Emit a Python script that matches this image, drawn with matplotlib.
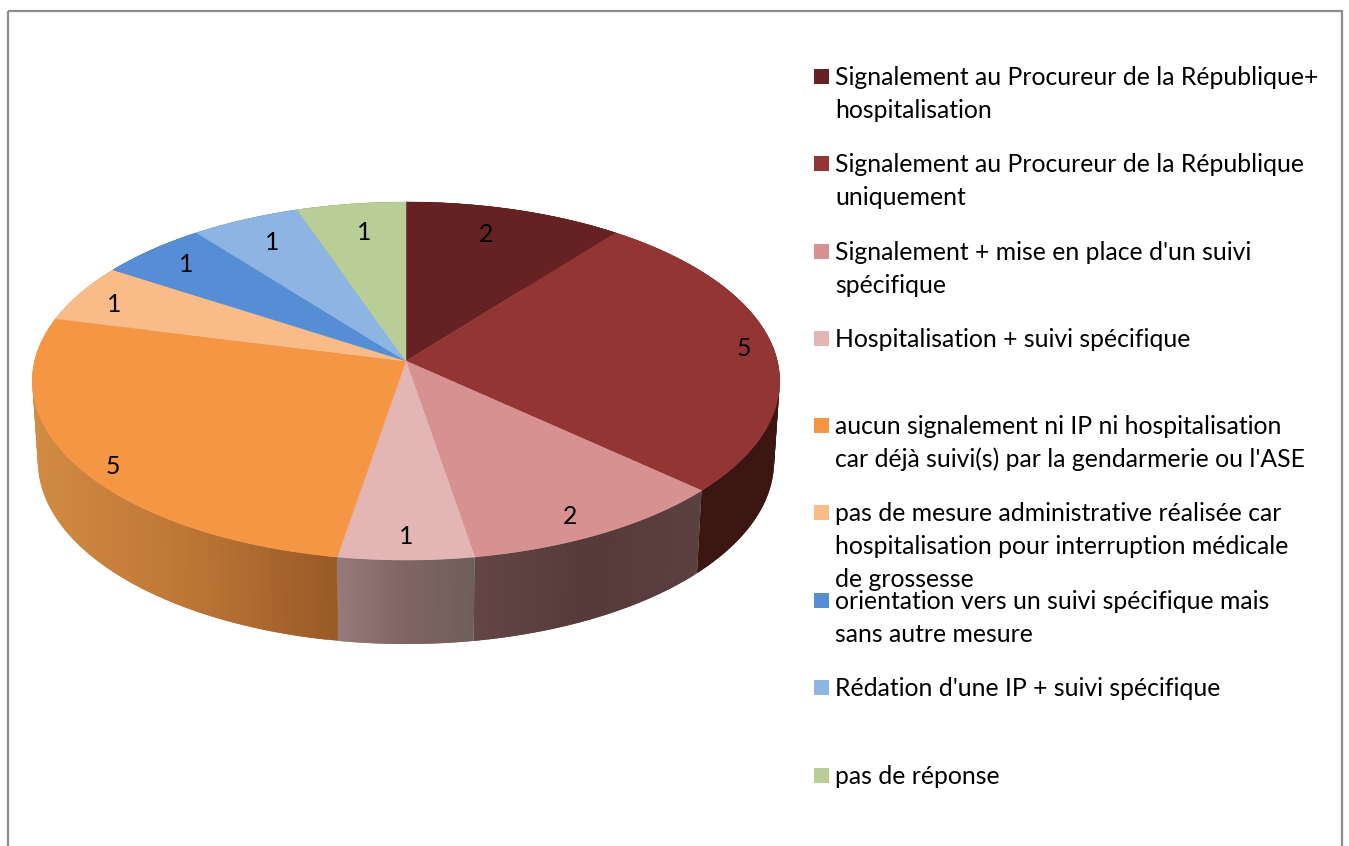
import numpy as np
import matplotlib
matplotlib.use('Agg')
import matplotlib.pyplot as plt
from matplotlib.colors import to_rgb
from matplotlib.patches import Rectangle

labels = [
    "Signalement au Procureur de la République+\nhospitalisation",
    "Signalement au Procureur de la République\nuniquement",
    "Signalement + mise en place d'un suivi\nspécifique",
    "Hospitalisation + suivi spécifique",
    "aucun signalement ni IP ni hospitalisation\ncar déjà suivi(s) par la gendarmerie ou l'ASE",
    "pas de mesure administrative réalisée car\nhospitalisation pour interruption médicale\nde grossesse",
    "orientation vers un suivi spécifique mais\nsans autre mesure",
    "Rédation d'une IP + suivi spécifique",
    "pas de réponse",
]
values = [2, 5, 2, 1, 5, 1, 1, 1, 1]
colors = ['#662222', '#943535', '#D79191', '#E3B5B5', '#F59644',
          '#F9BC88', '#558ED5', '#8EB4E3', '#B9CD96']
# side wall shades, left to right on screen
side_colors = [
    ['#3B1613'], ['#3B1613'], ['#634545', '#563A3A', '#5A403E'],
    ['#957B7A', '#806464', '#6F5F5B'], ['#D28B43', '#BE7635', '#985A28'],
    ['#D28B43'], ['#3B5F90'], ['#5F7A9A'], ['#7E8C66'],
]
# where Excel put the data labels
label_pos = [(486, 233), (744, 348), (570, 515), (406, 535), (113, 465),
             (114, 303), (186, 263), (272, 241), (364, 232)]
legend_bottoms = [85, 172, 260, 347, 434, 521, 609, 696, 784]

FONT = 'Lato'
FS = 17.8
CX, CY = 406, 361
RX, RY, PERSP = 371.4, 176.8, 0.1117
DEPTH, SHRINK_X, SHRINK_Y = 80, 0.985, 1.02


def project(theta, r=1.0, lower=False):
    # theta clockwise from the back of the disc, with perspective
    u = r * np.sin(theta)
    v = -r * np.cos(theta)
    w = 1 - PERSP * v
    sx = SHRINK_X if lower else 1.0
    sy = SHRINK_Y if lower else 1.0
    dy = DEPTH if lower else 0
    return CX + sx * RX * u / w, CY + dy + sy * RY * v / w


def shade(stops, t):
    rgb = np.array([to_rgb(c) for c in stops])
    if len(stops) == 1:
        return tuple(rgb[0])
    pos = np.linspace(0, 1, len(stops))
    return tuple(np.interp(t, pos, rgb[:, i]) for i in range(3))


fig = plt.figure(figsize=(13.49, 8.46), dpi=100)
ax = fig.add_axes([0, 0, 1, 1])
ax.set_xlim(0, 1349)
ax.set_ylim(846, 0)
ax.axis('off')

ax.add_patch(Rectangle((7.5, 11), 1334, 900, fill=False, ec='#8C8C8C', lw=1.6))

edges = np.cumsum([0] + values) / sum(values) * 2 * np.pi

# side walls first, the top covers whatever faces backwards
for i in range(len(values)):
    th = np.linspace(edges[i], edges[i + 1], 60)
    x_t, y_t = project(th)
    x_b, y_b = project(th, lower=True)
    lo, hi = x_t.min(), x_t.max()
    for j in range(len(th) - 1):
        t = ((x_t[j] + x_t[j + 1]) / 2 - lo) / max(hi - lo, 1)
        c = shade(side_colors[i], t)
        # overlap the next quad so no seams show
        n = min(j + 2, len(th) - 1)
        ax.fill([x_t[j], x_t[n], x_b[n], x_b[j]],
                [y_t[j], y_t[n], y_b[n], y_b[j]],
                color=c, lw=0, zorder=2)

for i in range(len(values)):
    th = np.linspace(edges[i], edges[i + 1], 120)
    x, y = project(th)
    ax.fill(np.r_[CX, x], np.r_[CY, y], color=colors[i], lw=0.3, zorder=3)

for v, (x, y) in zip(values, label_pos):
    ax.text(x, y + 1, str(v), ha='center', va='center', fontsize=FS,
            family=FONT, color='black', zorder=5)

for lab, col, b in zip(labels, colors, legend_bottoms):
    ax.add_patch(Rectangle((814, b - 16), 15, 15, fc=col, ec='none', zorder=4))
    for k, line in enumerate(lab.split('\n')):
        ax.text(835, b + k * 33, line, ha='left', va='baseline',
                fontsize=FS, family=FONT, color='black', zorder=5)

fig.savefig('out.png', dpi=100)
